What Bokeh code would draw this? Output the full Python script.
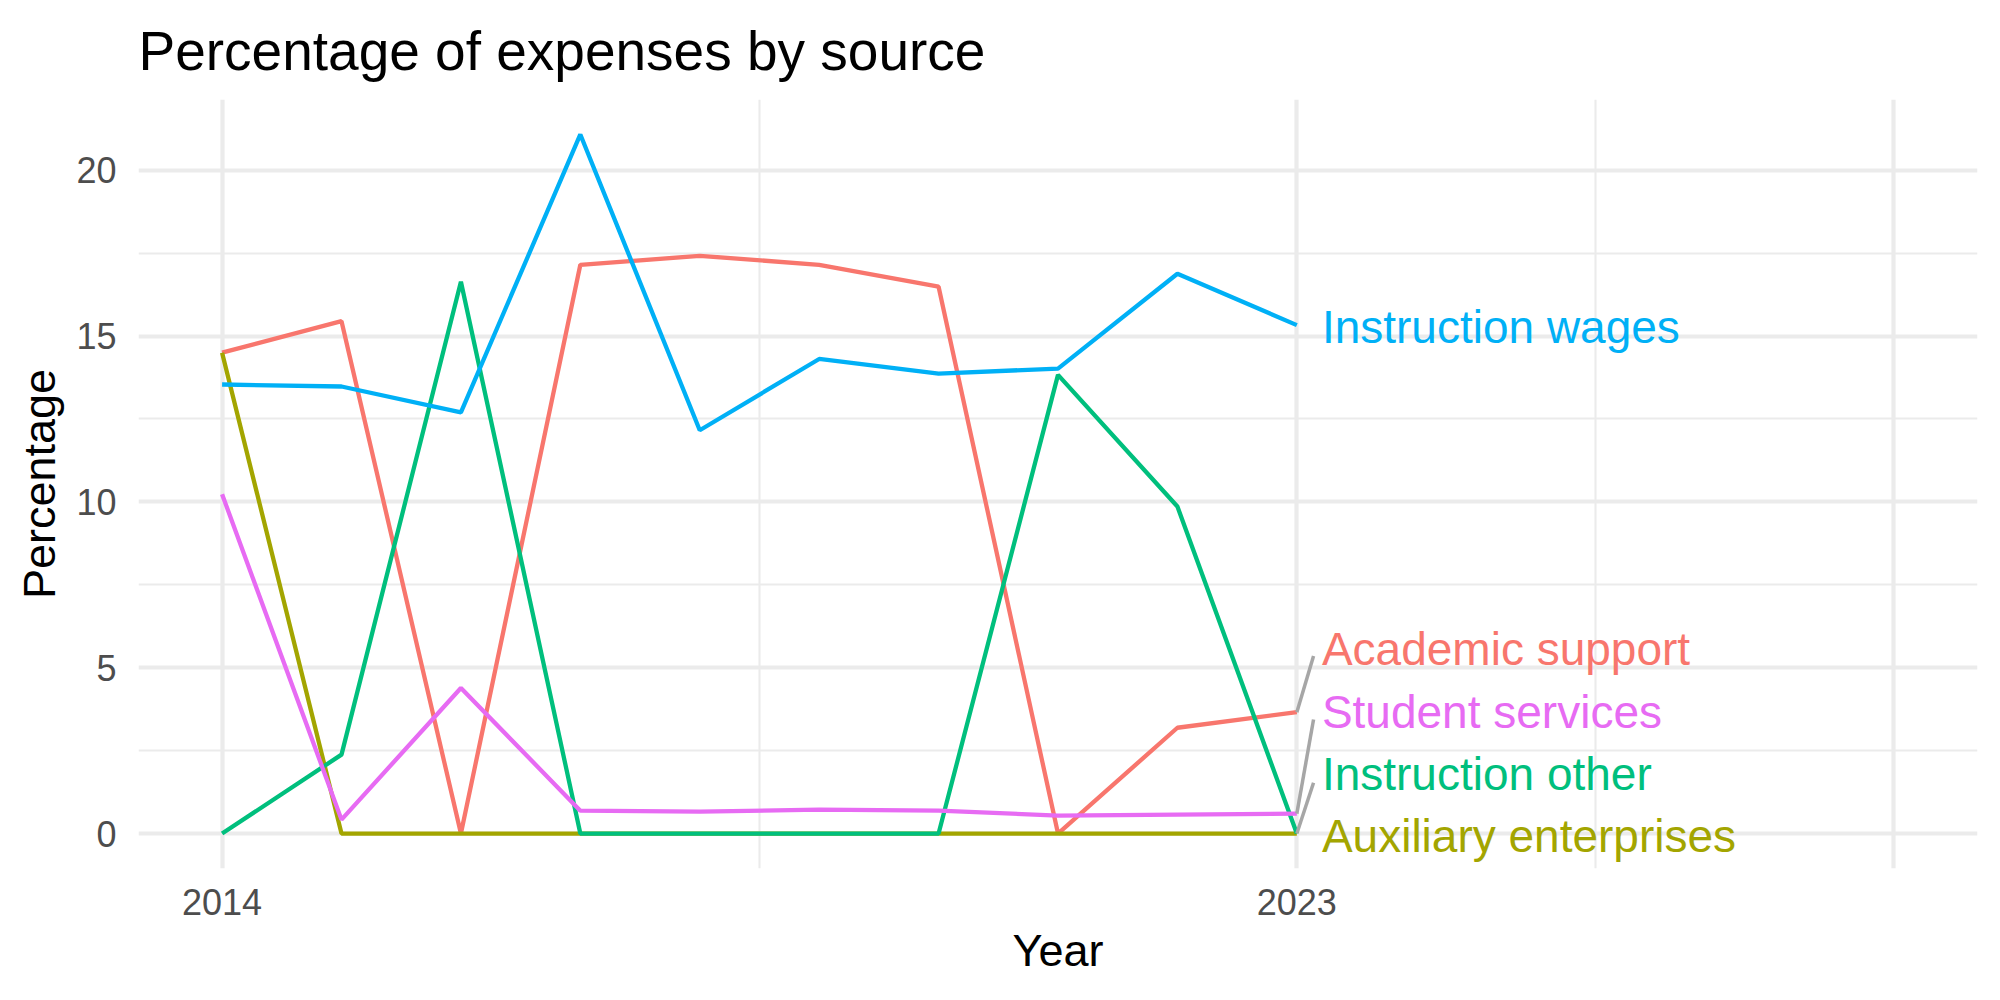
from bokeh.plotting import figure
from bokeh.models import FixedTicker, ColumnDataSource, Label
from bokeh.embed import file_html
from bokeh.resources import INLINE

# Expense shares by source, 2014-2023
years = [2014, 2015, 2016, 2017, 2018, 2019, 2020, 2021, 2022, 2023]
academic_support = [14.50, 15.45, 0.0, 17.15, 17.42, 17.15, 16.49, 0.0, 3.19, 3.66]
auxiliary_enterprises = [14.50, 0.0, 0.0, 0.0, 0.0, 0.0, 0.0, 0.0, 0.0, 0.0]
instruction_other = [0.0, 2.38, 16.64, 0.0, 0.0, 0.0, 0.0, 13.83, 9.86, 0.0]
instruction_wages = [13.54, 13.48, 12.70, 21.08, 12.16, 14.31, 13.87, 14.02, 16.88, 15.33]
student_services = [10.23, 0.42, 4.39, 0.69, 0.66, 0.72, 0.69, 0.54, 0.57, 0.60]

series_names = ["Academic support", "Auxiliary enterprises", "Instruction other",
                "Instruction wages", "Student services"]
series_values = [academic_support, auxiliary_enterprises, instruction_other,
                 instruction_wages, student_services]
series_colors = ["#F8766D", "#A3A500", "#00BF7D", "#00B0F6", "#E76BF3"]

x_ticks = [2014, 2023]
y_ticks = [0, 5, 10, 15, 20]

# end-label placement (baseline of each label, and top end of its leader line)
label_x = 2023.21
label_baseline = {"Academic support": 5.57, "Auxiliary enterprises": -0.08,
                  "Instruction other": 1.80, "Instruction wages": 15.28,
                  "Student services": 3.68}
leader_top = {"Academic support": 5.35, "Instruction other": 1.53,
              "Student services": 3.44}
leader_x = 2023.14

FONT = "Liberation Sans"

p = figure(width=2000, height=1000, output_backend="svg", toolbar_location=None,
           x_range=(2013.3, 2028.7), y_range=(-1.054, 22.134),
           min_border_left=138, min_border_right=23, min_border_top=97,
           min_border_bottom=132)
p.background_fill_color = "white"
p.border_fill_color = "white"
p.outline_line_color = None

p.title.text = "Percentage of expenses by source"
p.title.text_font = FONT
p.title.text_font_size = "55px"
p.title.text_font_style = "normal"
p.title.text_color = "black"
p.title.align = "left"
p.title.standoff = 35

# grid
p.xgrid.ticker = FixedTicker(ticks=[2014, 2023, 2028], minor_ticks=[2018.5, 2025.5])
p.ygrid.ticker = FixedTicker(ticks=y_ticks, minor_ticks=[2.5, 7.5, 12.5, 17.5])
for g in (p.xgrid, p.ygrid):
    g.grid_line_color = "#EBEBEB"
    g.grid_line_width = 4.2
    g.minor_grid_line_color = "#EBEBEB"
    g.minor_grid_line_width = 2.1

# axes
p.xaxis.ticker = FixedTicker(ticks=x_ticks)
p.yaxis.ticker = FixedTicker(ticks=y_ticks)
p.xaxis.axis_label = "Year"
p.yaxis.axis_label = "Percentage"
for ax in (p.xaxis, p.yaxis):
    ax.axis_line_color = None
    ax.major_tick_line_color = None
    ax.minor_tick_line_color = None
    ax.major_tick_out = 0
    ax.major_tick_in = 0
    ax.minor_tick_out = 0
    ax.minor_tick_in = 0
    ax.major_label_text_font = FONT
    ax.major_label_text_font_size = "36px"
    ax.major_label_text_color = "#4D4D4D"
    ax.axis_label_text_font = FONT
    ax.axis_label_text_font_size = "45px"
    ax.axis_label_text_font_style = "normal"
    ax.axis_label_text_color = "black"
p.xaxis.major_label_standoff = 20
p.xaxis.axis_label_standoff = 7
p.yaxis.major_label_standoff = 22
p.yaxis.axis_label_standoff = 8

# series lines
for name, vals, col in zip(series_names, series_values, series_colors):
    src = ColumnDataSource(dict(x=years, y=vals))
    p.line("x", "y", source=src, line_color=col, line_width=4.3)

# leader lines from the last point to the labels
for name, vals in zip(series_names, series_values):
    if name in leader_top:
        p.segment(x0=[years[-1]], y0=[vals[-1]], x1=[leader_x], y1=[leader_top[name]],
                  line_color="#A6A6A6", line_width=3.5)

# end labels (annotations, so they are not clipped by the frame)
for name, col in zip(series_names, series_colors):
    p.add_layout(Label(x=label_x, y=label_baseline[name], text=name, text_color=col,
                       text_font=FONT, text_font_size="46px",
                       text_align="left", text_baseline="alphabetic"))

open("out.html", "w").write(file_html(p, INLINE))
